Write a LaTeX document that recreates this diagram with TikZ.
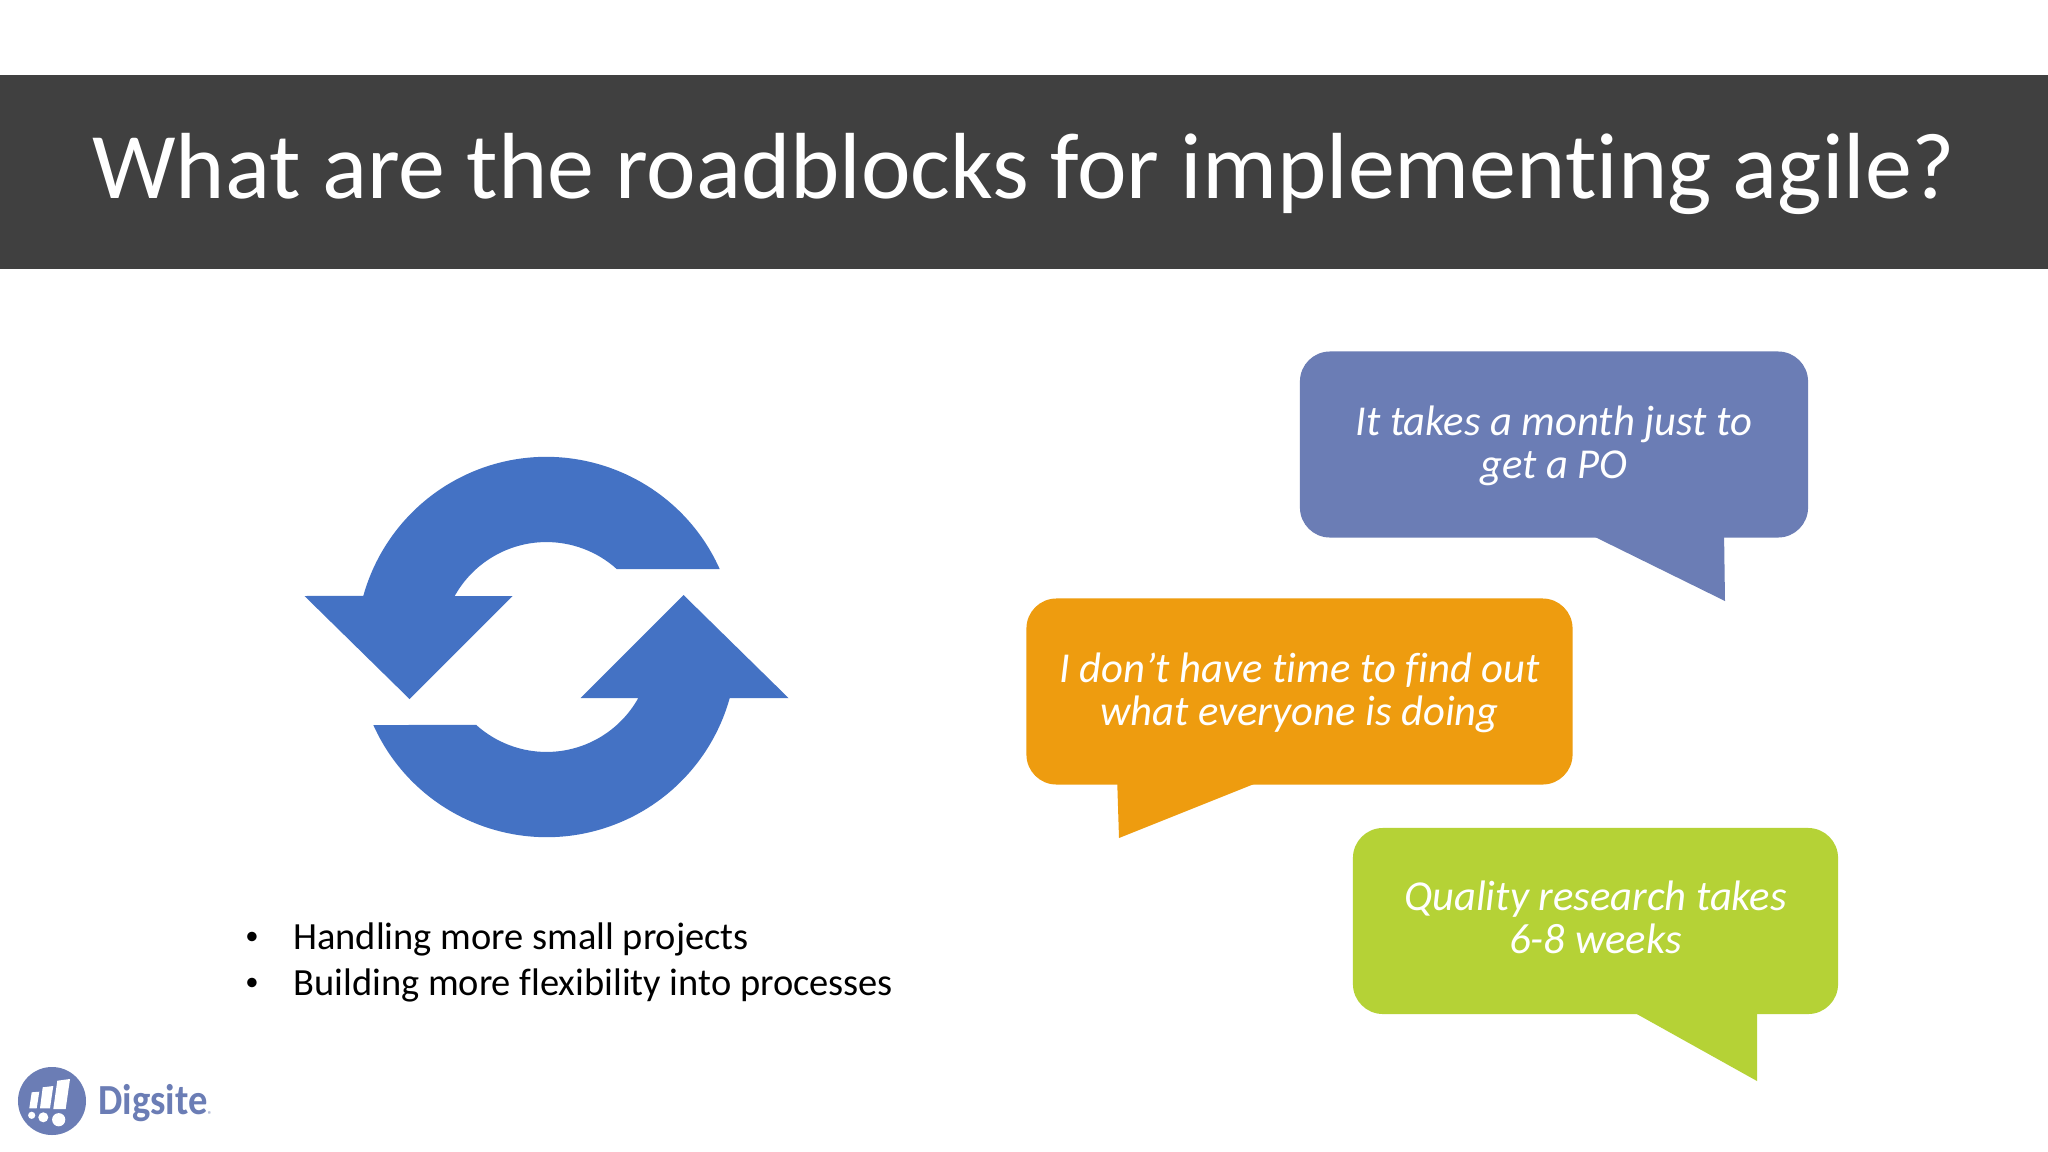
\documentclass[tikz,border=0pt]{standalone}
\usepackage{fontspec}
\setmainfont[RawFeature={-liga;-dlig}]{Carlito}
\definecolor{hdr}{HTML}{404040}
\definecolor{bblue}{HTML}{6B7DB5}
\definecolor{borange}{HTML}{EE9C0F}
\definecolor{bgreen}{HTML}{B5D236}
\definecolor{arr}{HTML}{4472C4}
\tikzset{
  bubble/.style={rectangle,rounded corners=0.75cm,inner sep=0pt,minimum height=4.65cm},
  quote/.style={inner sep=0pt,text=white,align=center,anchor=center,
    font=\fontsize{30.3}{30.5}\selectfont\itshape},
  listline/.style={anchor=base west,inner sep=0pt,text=black,font=\fontsize{27.35}{32}\selectfont},
  listbullet/.style={anchor=base west,inner sep=0pt,text=black,font=\fontsize{19}{20}\selectfont},
  circarrow/.pic={
    \fill[arr] (173.2,78) arc[start angle=24.2,end angle=164.4,radius=4.75cm]
      -- (-242,51) -- (-137,-52) -- (-34,51) -- (-91.8,51)
      arc[start angle=150.9,end angle=48,radius=2.625cm] -- cycle;
  }
}
\begin{document}
\begin{tikzpicture}[x=0.025cm,y=0.025cm]
\useasboundingbox (0,-1152) rectangle (2048,0);
\fill[white] (0,-1152) rectangle (2048,0);
% header
\node[anchor=north west,fill=hdr,minimum width=51.2cm,minimum height=4.85cm,inner sep=0pt] (header) at (0,-74.5) {};
\node[anchor=base,text=white,inner sep=0pt,font=\fontsize{66.8}{70}\selectfont] (title) at (1024,-198) {What are the roadblocks for implementing agile?};
% cycle icon
\pic at (546.5,-647) {circarrow};
\pic[rotate=180] at (546.5,-647) {circarrow};
% list
\node[listbullet] (b1) at (245,-944) {•};
\node[listline] (l1) at (293,-949) {Handling more small projects};
\node[listbullet] (b2) at (245,-990) {•};
\node[listline] (l2) at (293,-995) {Building more flexibility into processes};
% bubbles
\fill[bblue] (1595,-530) -- (1595,-537) -- (1725,-601) -- (1724,-530) -- cycle;
\node[bubble,fill=bblue,minimum width=12.7cm] (q1) at (1554,-444.5) {};
\node[quote] (t1) at (1554,-448) {\strut It takes a month just to\\\strut get a PO};
\fill[borange] (1254,-775) -- (1254,-784) -- (1119,-838) -- (1117,-775) -- cycle;
\node[bubble,fill=borange,minimum width=13.65cm] (q2) at (1299.5,-691.5) {};
\node[quote] (t2) at (1299.5,-695) {\strut I don’t have time to find out\\\strut what everyone is doing};
\fill[bgreen] (1635,-1005) -- (1635,-1013) -- (1757,-1081) -- (1757,-1005) -- cycle;
\node[bubble,fill=bgreen,minimum width=12.125cm] (q3) at (1595.5,-921) {};
\node[quote] (t3) at (1595.5,-923.5) {\strut Quality research takes\\\strut 6-8 weeks};
% logo
\fill[bblue] (52,-1101) circle[radius=0.85cm];
\fill[white] (31.7,-1092.3) -- (39.3,-1091.7) -- (36.7,-1108.3) -- (29.3,-1108.3) -- cycle;
\fill[white] (42.7,-1087.3) -- (53.3,-1086) -- (50,-1108.3) -- (40,-1108.3) -- cycle;
\fill[white] (57.3,-1080.7) -- (70,-1079) -- (65.7,-1109) -- (53.3,-1109) -- cycle;
\fill[white] (31.7,-1115.3) circle[radius=0.09cm];
\fill[white] (43.3,-1117.3) circle[radius=0.125cm];
\fill[white] (58.7,-1119.7) circle[radius=0.165cm];
\node[anchor=base west,inner sep=0pt,text=bblue,xscale=0.9,font=\bfseries\fontsize{30.5}{32}\selectfont] (logo) at (98,-1114) {Digsite};
\node[anchor=center,inner sep=0pt,text=bblue,font=\fontsize{6}{6}\selectfont] (reg) at (210,-1115) {®};
\end{tikzpicture}
\end{document}
